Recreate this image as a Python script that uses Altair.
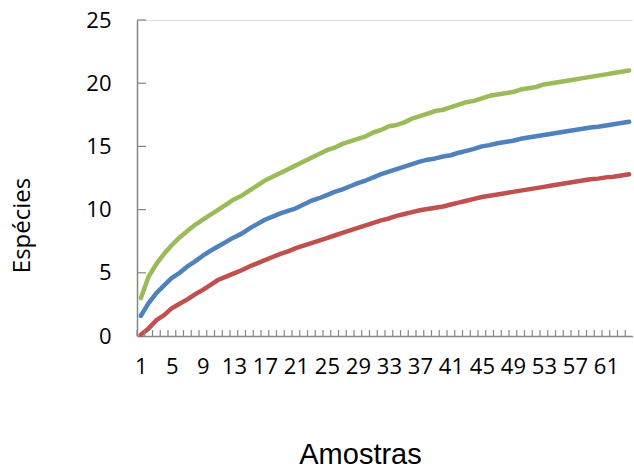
import altair as alt
import pandas as pd

amostras = list(range(1, 65))

verde = [3.0, 4.7, 5.7, 6.5, 7.2, 7.8, 8.3, 8.8, 9.2, 9.6, 10.0, 10.4, 10.8, 11.1, 11.5, 11.9,
         12.3, 12.6, 12.9, 13.2, 13.5, 13.8, 14.1, 14.4, 14.7, 14.9, 15.2, 15.4, 15.6, 15.8, 16.1, 16.3,
         16.6, 16.7, 16.9, 17.2, 17.4, 17.6, 17.8, 17.9, 18.1, 18.3, 18.5, 18.6, 18.8, 19.0, 19.1, 19.2,
         19.3, 19.5, 19.6, 19.7, 19.9, 20.0, 20.1, 20.2, 20.3, 20.4, 20.5, 20.6, 20.7, 20.8, 20.9, 21.0]

azul = [1.6, 2.6, 3.4, 4.0, 4.6, 5.0, 5.5, 5.9, 6.35, 6.75, 7.1, 7.45, 7.8, 8.1, 8.5, 8.85,
        9.2, 9.45, 9.7, 9.9, 10.1, 10.4, 10.7, 10.9, 11.15, 11.4, 11.6, 11.85, 12.1, 12.3, 12.55, 12.8,
        13.0, 13.2, 13.4, 13.6, 13.8, 13.95, 14.05, 14.2, 14.3, 14.5, 14.65, 14.8, 15.0, 15.1, 15.25, 15.35,
        15.45, 15.6, 15.7, 15.8, 15.9, 16.0, 16.1, 16.2, 16.3, 16.4, 16.5, 16.55, 16.65, 16.75, 16.85, 16.95]

vermelho = [0.1, 0.6, 1.25, 1.65, 2.2, 2.55, 2.9, 3.3, 3.65, 4.05, 4.45, 4.7, 4.95, 5.2, 5.5, 5.75,
            6.0, 6.25, 6.5, 6.7, 6.95, 7.15, 7.35, 7.55, 7.75, 7.95, 8.15, 8.35, 8.55, 8.75, 8.95, 9.15,
            9.3, 9.5, 9.65, 9.8, 9.95, 10.05, 10.15, 10.25, 10.4, 10.55, 10.7, 10.85, 11.0, 11.1, 11.2, 11.3,
            11.4, 11.5, 11.6, 11.7, 11.8, 11.9, 12.0, 12.1, 12.2, 12.3, 12.4, 12.45, 12.55, 12.6, 12.7, 12.8]

series_names = ["Superior", "Média", "Inferior"]
series_colors = ["#9BBB59", "#4F81BD", "#C0504D"]
x_labels = list(range(1, 65, 4))
y_ticks = [0, 5, 10, 15, 20, 25]

rows = []
for name, vals in zip(series_names, [verde, azul, vermelho]):
    for a, v in zip(amostras, vals):
        rows.append({"Amostra": a, "Série": name, "Espécies": v})
df = pd.DataFrame(rows)
df_x = pd.DataFrame({"Amostra": amostras})
df_y = pd.DataFrame({"Espécies": y_ticks[1:]})

GRAY = "#868686"

x_scale = alt.Scale(domain=[0.5, 64.5], nice=False, zero=False)
y_scale = alt.Scale(domain=[0, 25], nice=False)

x_axis = alt.Axis(values=x_labels, format="d", labelAngle=0, ticks=False, grid=False,
                  domainColor=GRAY, domainWidth=1.5,
                  labelFont="Open Sans", labelFontSize=22,
                  labelColor="#000000", labelPadding=20, labelOverlap=False,
                  labelFlush=False, labelBound=False,
                  title="Amostras", titleFont="Liberation Sans", titleFontSize=29,
                  titleFontWeight="normal", titleColor="#000000",
                  titleX=223, titleY=127, titleBaseline="alphabetic",
                  titleAlign="center")

y_axis = alt.Axis(values=y_ticks, ticks=False, grid=False, domainColor=GRAY,
                  domainWidth=1.5, labelFont="Open Sans", labelFontSize=22,
                  labelColor="#000000", labelPadding=26, labelOverlap=False,
                  title="Espécies", titleFont="Open Sans", titleFontSize=24,
                  titleFontWeight="normal", titleColor="#000000",
                  titleAngle=-90, titleX=-115, titleY=205,
                  titleBaseline="middle", titleAlign="center")

lines = alt.Chart(df).mark_line(strokeWidth=4.5, strokeCap="round", strokeJoin="round").encode(
    x=alt.X("Amostra:Q", scale=x_scale, axis=x_axis),
    y=alt.Y("Espécies:Q", scale=y_scale, axis=y_axis),
    color=alt.Color("Série:N", scale=alt.Scale(domain=series_names, range=series_colors),
                    legend=None),
)

x_ticks = alt.Chart(df_x).transform_calculate(
    Amostra="datum.Amostra - 0.5"
).mark_rule(color=GRAY, strokeWidth=1.2).encode(
    x=alt.X("Amostra:Q", scale=x_scale, axis=x_axis),
    y=alt.value(310),
    y2=alt.value(316),
)

y_tick_rules = alt.Chart(df_y).mark_rule(color=GRAY, strokeWidth=1.2).encode(
    y=alt.Y("Espécies:Q", scale=y_scale, axis=y_axis),
    x=alt.value(0),
    x2=alt.value(9),
)

chart = alt.layer(lines, x_ticks, y_tick_rules).properties(
    width=496,
    height=316,
    autosize=alt.AutoSizeParams(type="none"),
    padding={"left": 137, "top": 20, "right": 0, "bottom": 135},
).configure_view(strokeWidth=0).configure_axis(labelOverlap=False).configure(background="white")

chart.save("out.html", embed_options={"renderer": "svg", "actions": False})
